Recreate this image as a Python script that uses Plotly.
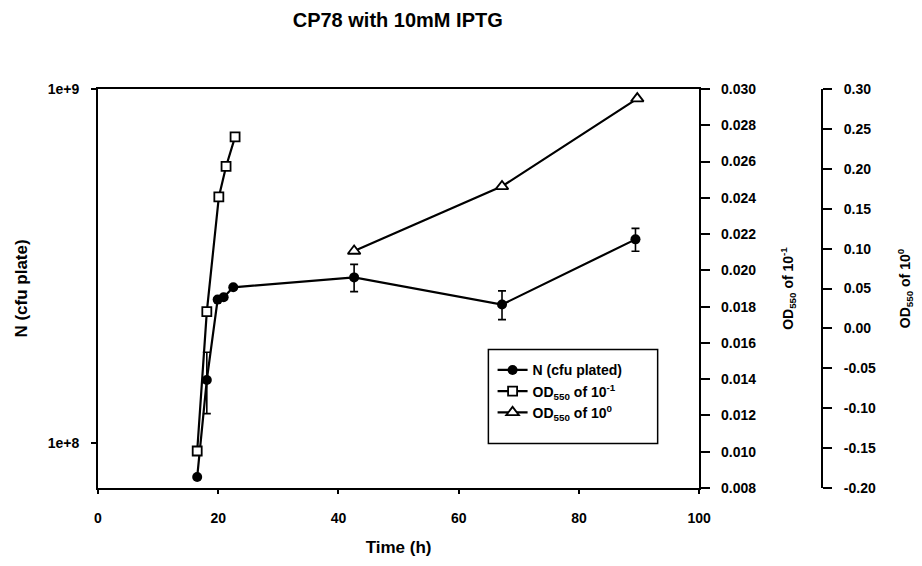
import plotly.graph_objects as go

# ---- data ----
t_n = [16.5, 18.1, 19.9, 20.9, 22.5, 42.6, 67.2, 89.4]
n_cfu = [8.04e7, 1.51e8, 2.545e8, 2.584e8, 2.757e8, 2.94e8, 2.464e8, 3.764e8]
n_err = [0, 0.297e8, 0, 0, 0, 0.26e8, 0.23e8, 0.28e8]

t_od1 = [16.5, 18.1, 20.1, 21.3, 22.8]
od_1 = [0.01004, 0.01772, 0.02405, 0.02573, 0.02736]

t_od0 = [42.6, 67.2, 89.7]
od_0 = [0.097, 0.178, 0.288]

x_ticks = [0, 20, 40, 60, 80, 100]
y1_ticks = [1e8, 1e9]
y1_labels = ["1e+8", "1e+9"]
y2_ticks = [0.008, 0.010, 0.012, 0.014, 0.016, 0.018, 0.020, 0.022, 0.024, 0.026, 0.028, 0.030]
y2_labels = ["0.008", "0.010", "0.012", "0.014", "0.016", "0.018", "0.020", "0.022", "0.024", "0.026", "0.028", "0.030"]
y3_ticks = [-0.20, -0.15, -0.10, -0.05, 0.00, 0.05, 0.10, 0.15, 0.20, 0.25, 0.30]
y3_labels = ["-0.20", "-0.15", "-0.10", "-0.05", "0.00", "0.05", "0.10", "0.15", "0.20", "0.25", "0.30"]

FONT = "Liberation Sans"
tickfont = dict(family=FONT, size=14, color="black", weight="bold")
titlefont = dict(family=FONT, size=17, color="black", weight="bold")
rtitlefont = dict(family=FONT, size=14, color="black", weight="bold")

fig = go.Figure()
fig.add_trace(go.Scatter(
    x=t_n, y=n_cfu, mode="lines+markers", name="N (cfu plated)",
    line=dict(color="black", width=2.2),
    marker=dict(symbol="circle", size=10, color="black"),
    error_y=dict(type="data", array=n_err, color="black", thickness=1.6, width=4),
    yaxis="y"))
fig.add_trace(go.Scatter(
    x=t_od1, y=od_1, mode="lines+markers", name="OD<sub>550</sub> of 10<sup>-1</sup>",
    line=dict(color="black", width=2.2),
    marker=dict(symbol="square", size=9, color="white", line=dict(width=1.8, color="black")),
    yaxis="y2"))
fig.add_trace(go.Scatter(
    x=t_od0, y=od_0, mode="lines+markers", name="OD<sub>550</sub> of 10<sup>0</sup>",
    line=dict(color="black", width=2.2),
    marker=dict(symbol="triangle-up", size=11, color="white", line=dict(width=1.8, color="black")),
    yaxis="y3"))

axis_common = dict(showline=True, linecolor="black", linewidth=2, ticks="outside",
                   tickcolor="black", tickwidth=2, showgrid=False, zeroline=False,
                   tickfont=tickfont)

# page body has an 8px margin, so the figure is drawn 8px smaller and shifted
fig.update_layout(
    width=914, height=558,
    margin=dict(l=90, r=97, t=81, b=74),
    paper_bgcolor="white", plot_bgcolor="white",
    title=dict(text="CP78 with 10mM IPTG", xref="paper", x=0.414, xanchor="center",
               yref="container", y=0.978, yanchor="middle",
               font=dict(family=FONT, size=20, color="black", weight="bold")),
    xaxis=dict(domain=[0, 0.8304], range=[0, 100], tickvals=x_ticks, mirror=True,
               ticklen=4, ticklabelstandoff=12,
               title=dict(text="Time (h)", font=titlefont, standoff=16),
               **axis_common),
    yaxis=dict(type="log", range=[7.874, 9.0], tickvals=y1_ticks, ticktext=y1_labels,
               ticklen=5, ticklabelstandoff=9,
               title=dict(text="N (cfu plate)", font=titlefont, standoff=16),
               **axis_common),
    yaxis2=dict(overlaying="y", side="right", anchor="x", range=[0.008, 0.030],
                tickvals=y2_ticks, ticktext=y2_labels, ticklen=9, ticklabelstandoff=8,
                title=dict(text="OD<sub>550</sub> of 10<sup>-1</sup>", font=rtitlefont, standoff=28),
                **axis_common),
    yaxis3=dict(overlaying="y", side="right", anchor="free", position=1.0,
                range=[-0.20, 0.30], tickvals=y3_ticks, ticktext=y3_labels, ticklen=9,
                ticklabelstandoff=9,
                title=dict(text="OD<sub>550</sub> of 10<sup>0</sup>", font=rtitlefont, standoff=24),
                **axis_common),
    showlegend=True,
    legend=dict(x=0.545, y=0.335, xanchor="left", yanchor="top",
                bgcolor="rgba(0,0,0,0)", borderwidth=0,
                font=dict(family=FONT, size=14, color="black", weight="bold"),
                itemwidth=30),
    shapes=[dict(type="rect", xref="paper", yref="paper",
                 x0=0.5392, x1=0.773, y0=0.1117, y1=0.347,
                 line=dict(color="black", width=1.5), fillcolor="rgba(0,0,0,0)")],
)

fig.write_html("out.html")
